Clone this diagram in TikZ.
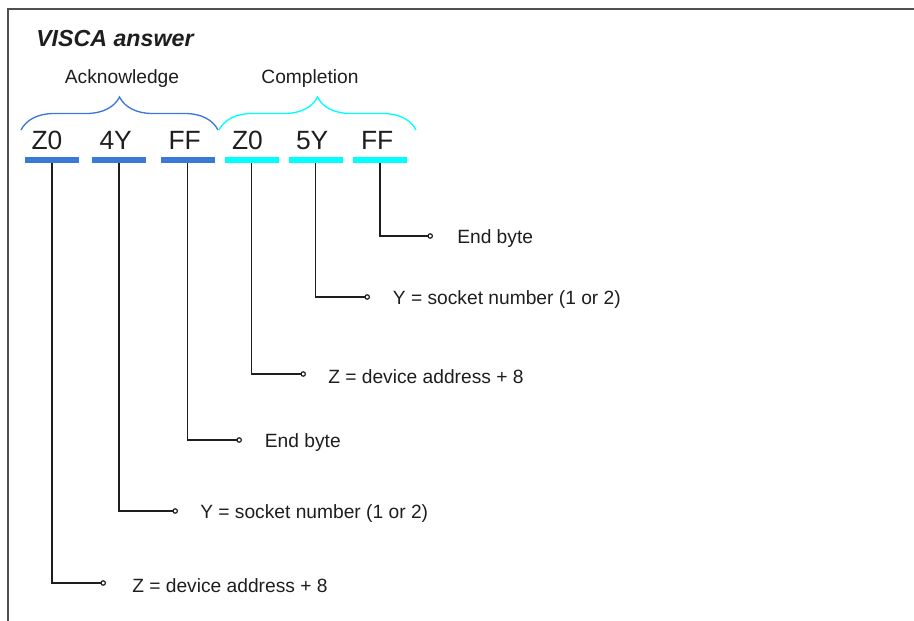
\documentclass[tikz,border=0pt]{standalone}
\usepackage{fontspec}
\setmainfont{Liberation Sans}
\usetikzlibrary{positioning,arrows.meta,decorations.pathreplacing}
\definecolor{ackblue}{RGB}{60,120,216}
\definecolor{cplcyan}{RGB}{0,255,255}
\definecolor{framegray}{RGB}{80,80,80}
\definecolor{inkgray}{RGB}{30,30,30}

\tikzset{
  bytebar/.style={fill=#1, inner sep=0pt,
    minimum width=40.5pt, minimum height=4.5pt},
  bytetxt/.style={inner sep=0pt, anchor=base west, text=inkgray,
    font=\fontsize{19.8}{23}\selectfont},
  desc/.style={inner sep=0pt, text=inkgray, font=\fontsize{14.4}{17}\selectfont},
  note/.style={desc, anchor=mid west, yshift=-1.8pt},
  lead/.style={line width=1pt, draw=inkgray,
    -{Circle[open, length=4.2pt, width=4.2pt, line width=0.9pt]}},
  grpbrace/.style={draw=#1, line width=1pt,
    decorate, decoration={brace, amplitude=24.75pt}}
}

\begin{document}
\begin{tikzpicture}[x=0.75pt, y=-0.75pt]
  \useasboundingbox (0,0) rectangle (914,621);
  \draw[framegray, line width=1.4pt] (8,621) -- (8,9) -- (914,9);

  \node[inner sep=0pt, anchor=base west, text=inkgray,
        font=\fontsize{17.4}{20}\selectfont\bfseries\itshape] (title) at (36,46) {VISCA answer};

  % the two groups
  \node[desc, anchor=base] (ack) at (122,83) {Acknowledge};
  \node[desc, anchor=base] (cpl) at (310,83) {Completion};
  \draw[grpbrace=ackblue] (21,130) -- (218,130);
  \draw[grpbrace=cplcyan] (219,130) -- (416,130);

  % bytes
  \node[bytebar=ackblue] (b1) at (52,160) {};
  \node[bytebar=ackblue] (b2) at (119,160) {};
  \node[bytebar=ackblue] (b3) at (187.5,160) {};
  \node[bytebar=cplcyan] (b4) at (251.5,160) {};
  \node[bytebar=cplcyan] (b5) at (315.5,160) {};
  \node[bytebar=cplcyan] (b6) at (380,160) {};
  \node[bytetxt] (l1) at ([shift={(6.5,-7)}]b1.north west) {Z0};
  \node[bytetxt] (l2) at ([shift={(7.5,-7)}]b2.north west) {4Y};
  \node[bytetxt] (l3) at ([shift={(8,-7)}]b3.north west) {FF};
  \node[bytetxt] (l4) at ([shift={(7.5,-7)}]b4.north west) {Z0};
  \node[bytetxt] (l5) at ([shift={(7.5,-7)}]b5.north west) {5Y};
  \node[bytetxt] (l6) at ([shift={(8,-7)}]b6.north west) {FF};

  % leader ends
  \coordinate (t6) at (433,236);
  \coordinate (t5) at (370,297);
  \coordinate (t4) at (306,374);
  \coordinate (t3) at (242,440);
  \coordinate (t2) at (178,511);
  \coordinate (t1) at (106,583);

  \draw[lead] (b6.south) |- (t6);
  \draw[lead] (b5.south) |- (t5);
  \draw[lead] (b4.south) |- (t4);
  \draw[lead] (b3.south) |- (t3);
  \draw[lead] (b2.south) |- (t2);
  \draw[lead] (b1.south) |- (t1);

  \node[note, right=18pt of t6] (d6) {End byte};
  \node[note, right=17pt of t5] (d5) {Y = socket number (1 or 2)};
  \node[note, right=16.5pt of t4] (d4) {Z = device address + 8};
  \node[note, right=17pt of t3] (d3) {End byte};
  \node[note, right=16.5pt of t2] (d2) {Y = socket number (1 or 2)};
  \node[note, right=19.5pt of t1] (d1) {Z = device address + 8};
\end{tikzpicture}
\end{document}
